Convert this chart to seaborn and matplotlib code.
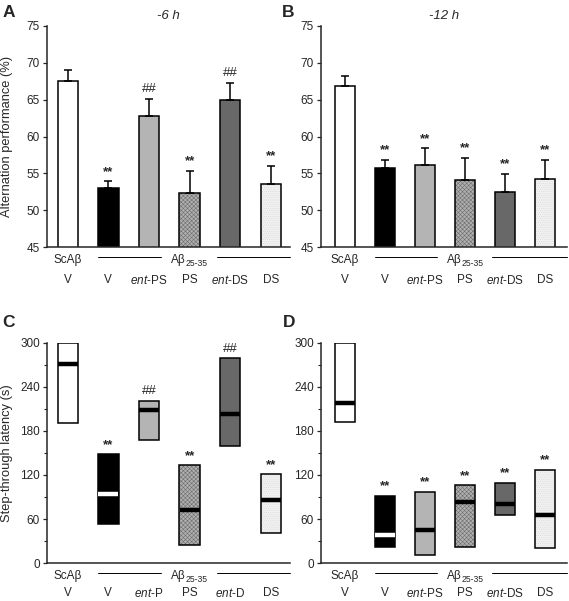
import numpy as np
import matplotlib
matplotlib.use("Agg")
import matplotlib.pyplot as plt
import matplotlib.colors as mcolors
import seaborn as sns

# groups (same order in every panel)
groups = ["ScAb_V", "V", "ent-PS", "PS", "ent-DS", "DS"]
labels_top = ["V", "V", r"$\mathit{ent}$-PS", "PS", r"$\mathit{ent}$-DS", "DS"]
labels_c = ["V", "V", r"$\mathit{ent}$-P", "PS", r"$\mathit{ent}$-D", "DS"]

# A: alternation, -6 h
alt6_mean = [67.6, 53.0, 62.8, 52.3, 65.0, 53.5]
alt6_sem = [1.4, 0.9, 2.3, 3.0, 2.3, 2.5]
alt6_sig = ["", "**", "##", "**", "##", "**"]
# B: alternation, -12 h
alt12_mean = [66.8, 55.7, 56.1, 54.1, 52.5, 54.2]
alt12_sem = [1.4, 1.1, 2.3, 3.0, 2.4, 2.6]
alt12_sig = ["", "**", "**", "**", "**", "**"]
# C: step-through latency, -6 h (interquartile box + median)
lat6_low = [191, 53, 168, 24, 160, 41]
lat6_high = [300, 148, 221, 133, 279, 121]
lat6_med = [271, 94, 208, 72, 203, 86]
lat6_sig = ["", "**", "##", "**", "##", "**"]
# D: step-through latency, -12 h
lat12_low = [192, 22, 11, 22, 65, 21]
lat12_high = [300, 92, 97, 106, 109, 127]
lat12_med = [218, 38, 45, 83, 81, 65]
lat12_sig = ["", "**", "**", "**", "**", "**"]

fills = ["white", "black", "#b4b4b4", "#b0b0b0", "#686868", "#f2f2f2"]
hatches = [None, None, None, "xxxxxxxx", None, "........"]
hatch_cols = [None, None, None, "#6e6e6e", None, "#d6d6d6"]
med_cols = ["black", "white", "black", "black", "black", "black"]

sns.set_style("ticks")
plt.rcParams["font.family"] = ["Liberation Sans", "DejaVu Sans"]
plt.rcParams["mathtext.fontset"] = "custom"
plt.rcParams["mathtext.rm"] = "Liberation Sans"
plt.rcParams["mathtext.it"] = "Liberation Sans:italic"
plt.rcParams["hatch.linewidth"] = 0.4

fig = plt.figure(figsize=(5.69, 6.01), dpi=100)
W, H = 569, 601


def add_ax(l, r, t, b):
    return fig.add_axes([l / W, 1 - b / H, (r - l) / W, (b - t) / H])


axA = add_ax(47, 290, 26, 247)
axB = add_ax(321, 567, 26, 247)
axC = add_ax(47, 290, 343, 563)
axD = add_ax(321, 567, 343, 563)


def style_bars(ax):
    for p, fc, h, hc in zip(ax.patches, fills, hatches, hatch_cols):
        p.set_facecolor(fc)
        p.set_edgecolor("black")
        p.set_linewidth(1.1)
        if h:
            p.set_hatch(h)
            p._hatch_color = mcolors.to_rgba(hc)


def finish(ax, xlim, ylim, ticks, minor, xlabels, xpad):
    ax.set_xlim(*xlim)
    ax.set_ylim(*ylim)
    ax.set_yticks(ticks)
    if minor is not None:
        ax.set_yticks(minor, minor=True)
    sns.despine(ax=ax)
    for s in ["left", "bottom"]:
        ax.spines[s].set_linewidth(1.1)
    ax.tick_params(axis="y", labelsize=8.5, length=3, width=0.9, pad=2)
    ax.tick_params(axis="y", which="minor", length=2, width=0.8)
    ax.set_xticks(range(len(groups)))
    ax.set_xticklabels(xlabels)
    ax.tick_params(axis="x", length=0, labelsize=8.5, pad=xpad)
    ax.set_xlabel("")
    # group labels under the axis
    tr = ax.get_xaxis_transform()
    ax.annotate("ScAβ", xy=(0, 0), xycoords=tr, xytext=(0, -9.5),
                textcoords="offset points", ha="center", va="center",
                fontsize=8.5, annotation_clip=False)
    ax.annotate("Aβ", xy=(3, 0), xycoords=tr, xytext=(-2.5, -9.5),
                textcoords="offset points", ha="right", va="center",
                fontsize=8.5, annotation_clip=False)
    ax.annotate("25-35", xy=(3, 0), xycoords=tr, xytext=(-2.8, -11.6),
                textcoords="offset points", ha="left", va="center",
                fontsize=6.2, annotation_clip=False)
    lc = ax.get_xlim()
    ax.plot([0.75, 2.3], [-0.045, -0.045], transform=tr, color="black",
            lw=0.7, clip_on=False)
    ax.plot([3.67, lc[1]], [-0.045, -0.045], transform=tr, color="black",
            lw=0.7, clip_on=False)


def sig_marks(ax, tops, marks, off):
    for i, (t, m) in enumerate(zip(tops, marks)):
        if m:
            if m == "**":
                ax.annotate(m, xy=(i, t), xytext=(0, off), textcoords="offset points",
                            ha="center", va="bottom", fontsize=9.5, fontweight="bold")
            else:
                ax.annotate(m, xy=(i, t), xytext=(0, off), textcoords="offset points",
                            ha="center", va="bottom", fontsize=9.5)


# A and B: mean + SEM bars
for ax, mean, sem, sig, title, xlim in [
        (axA, alt6_mean, alt6_sem, alt6_sig, "-6 h", (-0.51, 5.47)),
        (axB, alt12_mean, alt12_sem, alt12_sig, "-12 h", (-0.6, 5.55))]:
    sns.barplot(x=groups, y=mean, order=groups, color="white", width=0.5,
                saturation=1, ax=ax, errorbar=None)
    style_bars(ax)
    ax.errorbar(range(len(groups)), mean,
                yerr=[np.zeros(len(sem)), sem], fmt="none", ecolor="black",
                elinewidth=1.1, capsize=2.6, capthick=1.1, zorder=1)
    finish(ax, xlim, (45, 75), [45, 50, 55, 60, 65, 70, 75], None,
           labels_top, 19.5)
    sig_marks(ax, np.array(mean) + np.array(sem), sig, 2.5)
    ax.set_title(title, fontsize=9.5, style="italic", pad=5)

axA.set_ylabel("Alternation performance (%)", fontsize=9.3)
axA.yaxis.set_label_coords(-0.138, 0.5)
axB.set_ylabel("")

# C and D: floating boxes with a median line
for ax, low, high, med, sig, xlim, xl in [
        (axC, lat6_low, lat6_high, lat6_med, lat6_sig, (-0.51, 5.47), labels_c),
        (axD, lat12_low, lat12_high, lat12_med, lat12_sig, (-0.6, 5.55), labels_top)]:
    span = np.array(high) - np.array(low)
    sns.barplot(x=groups, y=span, order=groups, color="white", width=0.5,
                saturation=1, ax=ax, errorbar=None, bottom=low)
    style_bars(ax)
    ax.hlines(med, np.arange(len(groups)) - 0.245, np.arange(len(groups)) + 0.245,
              colors=med_cols, linewidth=3.2, zorder=3)
    finish(ax, xlim, (0, 300), [0, 60, 120, 180, 240, 300],
           [30, 90, 150, 210, 270], xl, 17)
    sig_marks(ax, high, sig, 2.5)

axC.set_ylabel("Step-through latency (s)", fontsize=9.3)
axC.yaxis.set_label_coords(-0.138, 0.5)
axD.set_ylabel("")

# panel letters
for letter, x, y in [("A", 3, 5), ("B", 282, 5), ("C", 2, 315), ("D", 283, 315)]:
    fig.text(x / W, 1 - y / H, letter, fontsize=12.5, fontweight="bold",
             ha="left", va="top")

fig.savefig("out.png", dpi=100)
